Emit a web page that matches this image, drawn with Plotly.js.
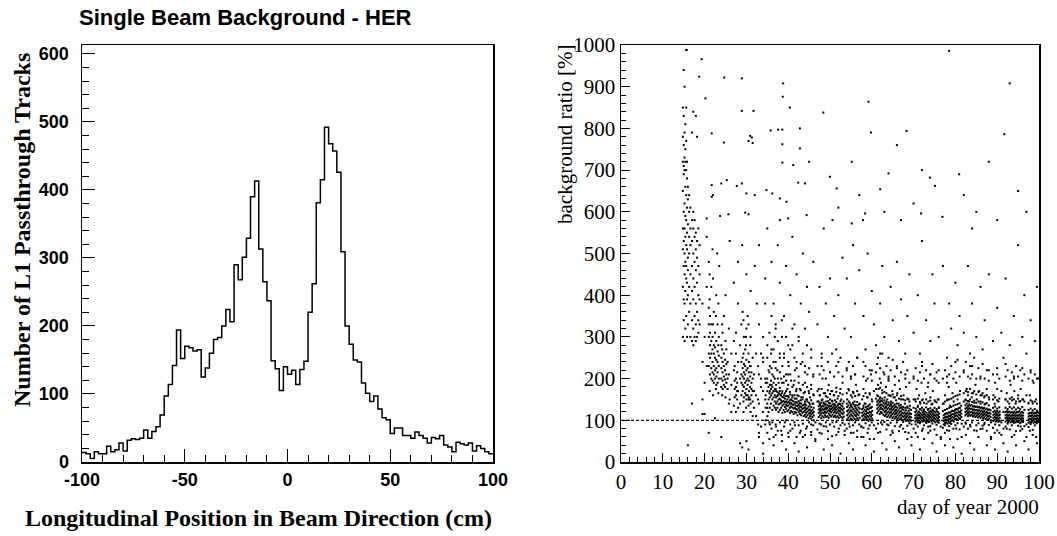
<!DOCTYPE html>
<html>
<head>
<meta charset="utf-8">
<script src="https://cdn.plot.ly/plotly-3.0.1.min.js"></script>
<style>
html,body{margin:0;padding:0;background:#fff;}
#chart{width:1057px;height:536px;}
</style>
</head>
<body>
<div id="chart"></div>
<script>
// ---------- Left panel: histogram of longitudinal position ----------
const binLow = -100;
const binWidth = 2;
const trackCounts = [
  14,12,5,15,12,12,23,15,18,28,16,32,34,33,35,47,35,45,52,69,
  97,114,142,194,152,170,168,163,165,125,138,160,180,183,200,224,206,290,268,301,
  329,390,413,313,265,237,149,137,105,140,129,135,114,136,148,220,262,381,415,492,
  468,457,426,309,200,173,150,147,116,101,89,97,78,65,62,42,50,50,39,39,
  35,44,39,35,28,36,34,39,25,22,15,29,27,25,28,16,24,20,15,12
];
const posTickVals = [-100, -50, 0, 50, 100];
const posTickText = ['-100', '-50', '0', '50', '100'];

// ---------- Right panel: background ratio vs day ----------
const refLevel = 100;
const runDay = [
  14.8,15.0,15.2,15.4,15.6,15.8,16.0,16.3,16.6,17.0,17.3,17.6,17.9,18.2,18.5,18.8,
  21.0,21.3,21.6,21.9,22.2,22.5,22.8,23.1,23.4,
  24.0,24.3,24.6,24.9,25.2,25.5,
  27.2,27.5,27.8,
  28.8,29.1,29.4,29.7,30.0,30.3,30.6,30.9,31.2,31.5,
  34.6,35.0,35.3,
  35.6,35.9,36.2,36.5,36.8,37.1,37.4,37.7,38.0,38.3,38.6,38.9,39.2,39.5,39.8,40.1,40.4,40.7,41.0,41.3,41.6,41.9,42.2,42.5,42.8,43.1,43.4,43.7,44.0,44.3,44.6,44.9,45.2,45.5,45.8,46.1,
  47.3,47.6,47.9,48.2,48.5,48.8,49.1,49.4,49.7,50.0,50.3,50.6,50.9,51.2,51.5,51.8,52.1,52.4,52.7,53.0,53.3,
  54.1,54.4,54.7,55.0,55.3,55.6,55.9,56.2,56.5,56.8,57.1,
  57.7,58.0,58.3,58.6,58.9,59.2,59.5,59.8,60.1,
  61.3,61.6,61.9,62.2,62.5,62.8,
  63.1,63.4,63.7,64.0,64.3,64.6,64.9,65.2,65.5,65.8,66.1,66.4,66.7,67.0,67.3,
  67.6,67.9,68.2,68.5,68.8,69.1,69.4,
  70.4,70.7,71.0,71.3,71.6,71.9,72.2,72.5,72.8,73.1,73.4,73.7,74.0,74.3,74.6,74.9,75.2,75.5,75.8,76.1,
  77.2,77.5,77.8,78.1,78.4,78.7,79.0,79.3,79.6,79.9,80.2,80.5,80.8,81.1,81.4,
  82.4,82.7,83.0,83.3,83.6,83.9,84.2,84.5,84.8,85.1,85.4,85.7,86.0,86.3,86.6,86.9,87.2,87.5,87.8,88.1,88.4,
  89.1,89.4,89.7,90.0,90.3,90.6,
  92.0,92.3,92.6,92.9,93.2,93.5,93.8,94.1,94.4,94.7,95.0,95.3,95.6,95.9,96.2,
  97.5,97.8,98.1,98.4,98.7,99.0,99.3,99.6,99.9
];
const runRatio = [
  [300,420,510,560,650,720,780,850],[340,390,470,530,600,690,710,760,830,940],[290,380,450,500,560,620,700,730,790,900],
  [320,410,480,540,590,660,720,750,810],[350,440,470,520,580,640,700,770,850,988],[300,390,430,510,550,610,680,720],
  [330,400,460,490,570,630,660],[360,420,500,540,600,640],[300,380,450,520,560,610],[290,340,410,470,530,580,790],
  [280,320,390,440,500,560,600,840],[300,350,420,480,540,580],[290,330,380,460,510,550,830],[300,360,430,490,530,780],
  [310,340,400,470,560],[330,390,450,520],
  [230,260,300,330,370,480],[210,250,280,310,350],[200,225,260,290,330,420],[195,215,240,270,300,510],
  [190,210,230,260,280,360],[200,220,250,275,310],[185,205,225,245,290,400],[190,215,240,265,330],[200,230,255,300],
  [180,200,225,250,280],[175,195,215,240,310],[185,205,230,260,350],[180,198,220,245],[190,210,235,270],[175,200,240],
  [155,175,195,230],[160,180,200,260,310],[150,170,190,215],
  [160,190,210,240,330],[170,185,205,225,250,360],[155,180,200,215,235,300],[165,190,210,230,270],[150,175,195,220,245,320],
  [160,185,200,225,350],[155,170,195,215,240],[150,180,205,230,280],[160,175,190,215],[145,170,200,250],
  [100,130,160,190],[110,140,170,200,250],[120,150,180,220],
  [130,155,170,185,230,90],[140,160,175,195,260],[125,150,165,180,210,95],[135,155,170,190,240],[130,145,160,175,200,300],
  [125,140,155,170,185,85],[130,145,158,168,220],[120,138,150,165,190],[125,140,152,162,178,250],[130,142,148,160,200,75],
  [118,135,145,156,170,230],[125,138,146,155,190],[120,132,143,152,165,95],[128,137,145,158,210],[122,134,142,150,175],
  [125,136,144,155,230,60],[118,130,140,148,168],[122,133,141,150,195],[120,131,138,147,160,280],[115,128,137,145,185],
  [120,130,140,152,220,88],[118,127,135,144,170],[112,125,134,142,160],[120,129,137,146,205],[115,124,133,141,175,70],
  [112,122,131,140,155],[118,127,135,150,240],[110,120,129,137,165],[113,123,131,140,190],[108,118,127,136,150,80],
  [112,121,129,145,210],[105,116,124,133,170],[110,118,126,138,155],[104,114,122,132,185,65],[108,117,125,140],[100,112,120,130,160],
  [108,118,126,134,145,175],[112,121,128,137,160],[105,116,124,132,142,90],[110,119,127,135,150,200],[107,117,125,133,140],
  [112,120,128,138,165],[108,118,126,131,145,85],[110,121,129,136,155],[106,116,124,133,142,185],[112,122,128,135,150],
  [109,119,127,134,170],[113,123,130,138,145,95],[108,118,126,133,160],[111,121,129,137,148],[107,117,125,132,178],
  [110,120,128,136,152],[106,116,124,131,140,80],[112,122,130,139,165],[108,118,127,135,150],[105,115,124,133,190],[109,119,128,145],
  [102,112,122,132,150],[106,116,125,136,175],[100,110,120,130,142,85],[104,114,124,134,205],[101,111,121,131,155],
  [107,117,127,138,165,70],[103,113,123,133,145],[100,110,119,129,185],[105,115,125,136],[102,112,121,131,160],[106,118,128,140],
  [100,110,118,127,150],[104,113,121,130,175,60],[101,109,116,125,140],[106,114,122,132,195],[102,110,118,127,155],
  [99,108,117,126,135,80],[103,112,120,129,165],[100,109,118,130,210],[104,113,122,145],
  [118,128,137,145,160,235],[122,131,140,148,175],[115,126,135,144,152,200],[120,130,138,147,190,95],[117,127,136,146,165],[113,124,133,142,215],
  [110,120,129,138,155],[114,123,132,141,180],[108,118,127,136,150,90],[112,121,130,138,195],[107,117,126,134,160],
  [111,120,128,137,145],[106,115,124,132,170,75],[109,118,127,135,155],[104,114,122,131,185],[108,117,125,133,148],
  [103,112,121,130,165],[107,116,124,140],[102,111,120,129,175,85],[105,114,122,131,150],[101,110,118,127],
  [100,108,116,125,160],[103,111,119,140],[99,107,115,124,180],[102,110,117,130],[98,106,114,122,150,70],[101,109,117,135],[99,107,115,125],
  [97,105,112,120,150],[100,107,114,123,175],[95,104,111,118,135,60],[99,106,113,121,160],[96,104,110,117,140],
  [100,107,114,124,190],[97,105,112,119,150,80],[101,108,115,122],[98,106,113,120,165],[95,103,110,118,140],
  [99,107,114,125,180],[96,104,111,119],[100,108,115,122,155,75],[97,105,112,120,138],[101,109,116,124,170],
  [98,106,113,121],[95,103,111,119,145],[99,107,114,122,195,65],[96,104,112,120,150],[100,108,116,130],
  [90,98,105,112,140],[93,100,107,115,160,70],[95,102,109,117],[92,100,108,116,150],[96,104,111,119,180],
  [94,102,110,118,135,55],[98,106,113,121],[100,108,115,123,165],[97,106,114,122,145],[102,110,117,125],
  [104,112,119,127,190,80],[101,110,118,126,150],[106,114,121,129],[103,112,120,130,170],[108,116,124,135],
  [112,120,128,136,150,95],[115,122,130,140,175],[110,118,126,134,160],[114,121,129,138,145],[111,119,127,135,200,85],
  [113,120,128,137,155],[109,117,125,133,165],[112,119,126,134,142],[108,116,124,132,185],[111,118,125,133,150,75],
  [107,115,123,131],[110,117,124,132,170],[106,114,121,129,145],[109,116,123,131,160],[104,112,120,128],
  [107,115,122,130,155,90],[103,111,118,126,140],[106,113,120,128,175],[101,109,117,125],[104,111,118,126,150],[100,108,116,124],
  [98,106,113,120,160],[101,108,115,123,140,70],[97,105,112,119],[100,107,114,122,175],[96,104,111,118,145],[99,106,113,121],
  [97,105,112,120,150],[100,107,114,122,165,80],[96,104,111,119],[99,106,113,121,140],[95,103,110,118,185],
  [98,105,112,120,155],[96,104,111,118],[99,106,113,121,170,65],[95,103,110,117,140],[98,105,112,120],
  [96,104,111,119,160],[99,106,113,122,145],[95,103,110,117,175,85],[98,105,112,120],[96,104,111,118,150],
  [94,102,109,116,140],[97,104,111,118,160,75],[95,103,110,117],[98,105,112,119,145],[94,102,109,116,190],
  [97,104,111,118],[95,103,110,117,150,60],[98,105,112,120],[96,104,111,118]
];
// wider spread of runs around the main band
const haloDay = [
  19.5,20.0,20.5,21.2,22.0,22.7,23.3,24.2,25.0,25.8,26.4,27.0,28.0,28.5,29.3,29.9,30.5,31.0,31.8,32.3,32.8,
  33.0,33.5,34.0,34.5,35.0,35.5,36.0,36.5,37.0,37.5,38.0,38.5,39.0,39.5,40.0,40.5,41.0,41.5,42.0,42.5,43.0,43.5,44.0,44.5,45.0,45.5,46.0,46.5,
  47.0,47.5,48.0,48.5,49.0,49.5,50.0,50.5,51.0,51.5,52.0,52.5,53.0,53.5,54.0,54.5,55.0,55.5,56.0,56.5,57.0,57.5,
  58.0,58.5,59.0,59.5,60.0,60.5,61.0,61.5,62.0,62.5,63.0,63.5,64.0,64.5,65.0,65.5,66.0,66.5,67.0,67.5,68.0,68.5,69.0,69.5,
  70.0,70.5,71.0,71.5,72.0,72.5,73.0,73.5,74.0,74.5,75.0,75.5,76.0,76.5,77.0,77.5,78.0,78.5,79.0,79.5,80.0,80.5,81.0,81.5,
  82.0,82.5,83.0,83.5,84.0,84.5,85.0,85.5,86.0,86.5,87.0,87.5,88.0,88.5,89.0,89.5,90.0,90.5,91.0,91.5,
  92.0,92.5,93.0,93.5,94.0,94.5,95.0,95.5,96.0,96.5,97.0,97.5,98.0,98.5,99.0,99.5
];
const haloRatio = [
  [150,240,380],[115,190,300],[230,420],[170,390,450],[160,330,440],[175,350],[165,280,380],[160,270,330],[155,290,400],
  [140,210,320],[120,185,260],[135,220,290],[130,170,240,380],[140,200,280],[120,145,260,340],[130,160,280,300],
  [135,150,260,330],[120,140,230,300],[130,170,210],[110,160,260],[90,150,230],
  [60,140,210,330],[85,180,260],[45,120,170,240],[90,150,200,380],[70,130,190,280],[95,165,215,310],[80,185,225,350],
  [60,170,205,270],[90,175,240,320],[75,160,200,290],[95,170,215,260],[65,165,190,340],[85,160,205,250],[100,170,195,300],
  [70,158,185,240],[90,162,210,270],[80,155,180,320],[95,160,195,250],[60,152,175,225],[88,158,190,300],[75,148,172,235],
  [92,155,185,260],[65,145,168,215],[85,150,180,280],[95,142,165,225],[72,148,175,250],[88,140,162,205],[55,95],
  [78,145,170,230],[92,140,160,210],[68,148,175,250],[86,143,165,220],[95,138,158,200],[74,146,172,240],[90,141,163,215],
  [62,147,170,260],[85,139,160,205],[96,144,168,230],[72,138,158,215],[88,146,175,250],[94,140,162,205],[65,90],
  [80,140,165,220],[92,145,172,240],[70,138,160,200],[88,142,168,230],[95,136,158,210],[75,144,170,250],[90,138,162],[60,85],
  [82,135,158,205],[93,140,165,230],[70,133,155,200],[88,138,162,220],[95,132,150,195],[55,88,170],
  [80,152,175,215],[92,158,185,250],[72,155,178,225],[90,152,172,260],[96,148,168,210],[78,145,165,230],[88,143,160,200],
  [94,140,158,220],[70,142,162,245],[86,138,155,205],[95,140,160,225],[74,135,152,195],[89,137,158,215],[96,132,150,240],
  [72,130,148,200],[87,133,152,220],[93,128,145,190],[60,90],
  [80,130,150,205],[90,128,145,225],[85,132,152,195],[93,127,144,215],[75,130,148,240],[88,126,142,200],[94,131,150,220],
  [70,127,145,190],[86,129,147,210],[92,125,140,235],[78,130,148,200],[89,127,143,215],[94,131,150,190],[55,85],
  [82,122,140,200],[88,125,145,220],[76,127,148,190],[86,130,150,210],[91,132,152,230],[80,135,155,200],[88,137,158,215],
  [93,139,160,245],[78,141,162,205],[60,92],
  [85,145,165,220],[92,148,170,240],[80,146,168,205],[89,150,175,230],[95,144,165,210],[76,147,170,250],[88,142,162,200],
  [93,145,168,225],[79,140,160,205],[87,143,165,235],[94,138,158,200],[75,141,160,220],[89,136,155,195],[60,95],
  [82,130,150,210],[90,133,155,190],[76,128,148,225],[88,131,152,200],[65,95,170],[80,120,250],
  [85,130,150,205],[92,127,145,220],[78,132,152,195],[88,128,148,215],[94,131,150,200],[74,126,145,230],[87,130,152,205],
  [93,127,146,220],[79,132,150,195],[86,125,145,210],[60,90,160],[84,125,142,200],[91,128,148,220],[77,124,140,195],
  [88,127,145,210],[93,123,140,200]
];
const sparseDay = [
  15.7,19.3,18.7,20.2,24.7,28.9,28.9,31.7,38.8,38.7,40.4,42.8,35.8,37.6,38.6,38.6,42.8,41.2,38.6,59.2,
  68.3,59.8,48.4,55.2,78.5,93,91.7,64,73.9,75.1,80.9,62,50,51.6,44,42.4,39.6,38,36.2,34.8,
  32,30,28.9,27.7,25.3,24,21.7,22,21.7,58.4,57.9,67,71.8,76.9,55.2,50.6,44.4,40,38,29.7,
  30.5,25.7,23.7,20.5,30.9,31.3,30.5,31.5,21.7,24.6,
  20.5,23,23.5,26,27,28,29,30,31,32,32.5,33,34,34.5,35,36,36.5,37,37.5,38,38.5,39,39.5,40,40.5,41,41.5,42,42.5,43,
  43.5,44,44.5,45,45.5,46,47,47.5,48,48.5,49,49.5,50,51,51.5,52,53,53.5,54,55,55.5,56,56.5,57,58,58.5,59,60,60.5,61,
  62,62.5,63,64,64.5,65,66,66.5,67,68,68.5,69,70,71,71.5,72,73,74,74.5,75,76,77,78,78.5,79,80,80.5,81,82,83,
  83.5,84,85,86,86.5,87,88,89,90,91,92,93,94,95,96,96.5,97,98,99,99.5,
  16,17,19.5,21,22.5,24,26,27.5,28.5,29,30,30.5,31.5,33,34,35.5,36.5,37,38.5,39.5,40.5,41.5,42.5,43.5,44.5,45.5,46.5,47.5,48.5,49.5,
  50.5,51.5,52.5,53.5,54.5,55.5,56.5,57.5,58.5,59.5,60.5,61.5,62.5,63.5,64.5,65.5,66.5,67.5,68.5,69.5,70.5,71.5,72.5,73.5,74.5,75.5,76.5,77.5,78.5,79.5,
  80.5,81.5,82.5,83.5,84.5,85.5,86.5,87.5,88.5,89.5,90.5,91.5,92.5,93.5,94.5,95.5,96.5,97.5,98.5,99.5,
  33.5,34,36,37,39,40,42,44,46,48,50,52,54,56,58,60,62,64,66,68,70,72,74,76,78,80,82,84,86,88,90,92,94,96,98,99.8,
  45,52,57,63,66,70,72,82,85,88,95,97,84,90
];
const sparseRatio = [
  988,966,924,872,922,920,842,842,908,876,850,800,795,797,797,762,752,712,718,864,
  794,790,838,720,986,908,786,692,682,662,690,654,684,656,668,670,624,632,644,652,
  640,644,668,662,676,668,664,640,636,596,580,580,596,588,572,580,592,584,580,598,
  594,594,590,584,782,778,770,765,788,766,
  540,500,470,530,430,480,520,450,410,470,380,520,300,440,560,480,380,330,520,430,300,350,470,280,400,540,330,450,290,380,
  500,320,420,360,270,480,330,420,260,560,380,300,440,350,270,400,490,320,440,300,520,380,250,460,350,270,500,410,330,280,
  380,470,300,250,420,340,480,290,390,260,350,450,310,400,260,530,340,290,450,380,300,470,250,380,320,430,280,350,310,470,
  260,380,300,420,270,340,450,290,370,310,440,280,350,520,300,400,260,340,290,420,
  40,140,115,70,105,60,150,120,45,35,50,30,110,70,20,55,40,65,50,30,75,45,25,60,35,90,50,70,30,55,
  40,65,20,75,45,30,60,85,40,55,25,70,45,30,65,50,35,80,55,40,70,30,55,85,45,25,60,40,75,35,
  55,20,65,45,30,60,80,40,55,30,70,45,25,60,40,75,50,30,65,45,
  200,250,270,225,260,210,240,230,210,230,215,240,225,210,240,220,260,205,230,210,200,230,210,220,205,240,215,230,200,220,210,235,205,225,215,200,
  720,610,640,600,760,620,700,640,600,720,650,600,560,580
];

// ---------- build traces ----------
const histX = trackCounts.map((c, i) => binLow + i * binWidth);
histX.push(binLow + trackCounts.length * binWidth);
const histY = trackCounts.slice();
histY.push(trackCounts[trackCounts.length - 1]);

const sx = [], sy = [];
runDay.forEach((d, i) => runRatio[i].forEach(r => { sx.push(d); sy.push(r); }));
haloDay.forEach((d, i) => haloRatio[i].forEach(r => { sx.push(d); sy.push(r); }));
sparseDay.forEach((d, i) => { sx.push(d); sy.push(sparseRatio[i]); });

const histTrace = {
  type: 'scatter', mode: 'lines', x: histX, y: histY,
  line: {shape: 'hv', color: '#000', width: 1.5},
  xaxis: 'x', yaxis: 'y', hoverinfo: 'skip'
};
const scatTrace = {
  type: 'scatter', mode: 'markers', x: sx, y: sy,
  marker: {symbol: 'square', size: 2, color: '#000', line: {width: 0}},
  xaxis: 'x2', yaxis: 'y2', hoverinfo: 'skip'
};

const W = 1057, H = 536;
const px = v => v / W;
const py = v => (H - v) / H;

const sansBold = {family: 'Liberation Sans, Arial, sans-serif', size: 18, color: '#000', weight: 'bold'};
const serif = {family: 'Liberation Serif, Times New Roman, serif', size: 21, color: '#000'};
const serifBold = {family: 'Liberation Serif, Times New Roman, serif', size: 24, color: '#000', weight: 'bold'};

const layout = {
  width: W, height: H,
  margin: {l: 0, r: 0, t: 0, b: 0},
  paper_bgcolor: '#fff', plot_bgcolor: '#fff',
  showlegend: false,
  xaxis: {
    domain: [px(82), px(493)], range: [-100, 100], anchor: 'y',
    tickmode: 'array', tickvals: posTickVals, ticktext: posTickText,
    ticks: 'inside', ticklen: 13, tickwidth: 1, tickcolor: '#000',
    minor: {tickmode: 'linear', tick0: -100, dtick: 10, ticks: 'inside', ticklen: 7, tickwidth: 1, tickcolor: '#000', showgrid: false},
    showline: true, linecolor: '#000', linewidth: 1.5, mirror: true,
    showgrid: false, zeroline: false, tickfont: sansBold, ticklabelstandoff: 1
  },
  yaxis: {
    domain: [py(462), py(45)], range: [0, 613], anchor: 'x',
    tickmode: 'linear', tick0: 0, dtick: 100, ticks: 'inside', ticklen: 13, tickwidth: 1, tickcolor: '#000',
    minor: {tickmode: 'linear', tick0: 0, dtick: 20, ticks: 'inside', ticklen: 7, tickwidth: 1, tickcolor: '#000', showgrid: false},
    showline: true, linecolor: '#000', linewidth: 1.5, mirror: true,
    showgrid: false, zeroline: false, tickfont: sansBold, ticklabelstandoff: 8
  },
  xaxis2: {
    domain: [px(621), px(1039)], range: [0, 100], anchor: 'y2',
    tickmode: 'linear', tick0: 0, dtick: 10, ticks: 'inside', ticklen: 9, tickwidth: 1, tickcolor: '#000',
    minor: {tickmode: 'linear', tick0: 0, dtick: 2, ticks: 'inside', ticklen: 5, tickwidth: 1, tickcolor: '#000', showgrid: false},
    showline: true, linecolor: '#000', linewidth: 1.5, mirror: true,
    showgrid: false, zeroline: false, tickfont: serif, ticklabelstandoff: 0
  },
  yaxis2: {
    domain: [py(462), py(45)], range: [0, 1000], anchor: 'x2',
    tickmode: 'linear', tick0: 0, dtick: 100, ticks: 'inside', ticklen: 9, tickwidth: 1, tickcolor: '#000',
    minor: {tickmode: 'linear', tick0: 0, dtick: 20, ticks: 'inside', ticklen: 5, tickwidth: 1, tickcolor: '#000', showgrid: false},
    showline: true, linecolor: '#000', linewidth: 1.5, mirror: true,
    showgrid: false, zeroline: false, tickfont: serif, ticklabelstandoff: 0
  },
  shapes: [{
    type: 'line', xref: 'x2 domain', yref: 'y2', x0: 0, x1: 1, y0: refLevel, y1: refLevel,
    line: {color: '#000', width: 1.2, dash: '3px,2px'}
  }],
  annotations: [
    {text: 'Single Beam Background - HER', xref: 'paper', yref: 'paper', x: px(77), y: py(17), xanchor: 'left', yanchor: 'middle',
     showarrow: false, font: {family: 'Liberation Sans, Arial, sans-serif', size: 22, color: '#000', weight: 'bold'}},
    {text: 'Number of L1 Passthrough Tracks', xref: 'paper', yref: 'paper', x: px(22), y: py(230), xanchor: 'center', yanchor: 'middle',
     textangle: -90, showarrow: false, font: serifBold},
    {text: 'Longitudinal Position in Beam Direction (cm)', xref: 'paper', yref: 'paper', x: px(258), y: py(518), xanchor: 'center', yanchor: 'middle',
     showarrow: false, font: serifBold},
    {text: 'background ratio [%]', xref: 'paper', yref: 'paper', x: px(565), y: py(134), xanchor: 'center', yanchor: 'middle',
     textangle: -90, showarrow: false, font: serif},
    {text: 'day of year 2000', xref: 'paper', yref: 'paper', x: px(1040), y: py(507), xanchor: 'right', yanchor: 'middle',
     showarrow: false, font: serif, borderpad: 0}
  ]
};

Plotly.newPlot('chart', [histTrace, scatTrace], layout, {staticPlot: true, displayModeBar: false});
</script>
</body>
</html>
